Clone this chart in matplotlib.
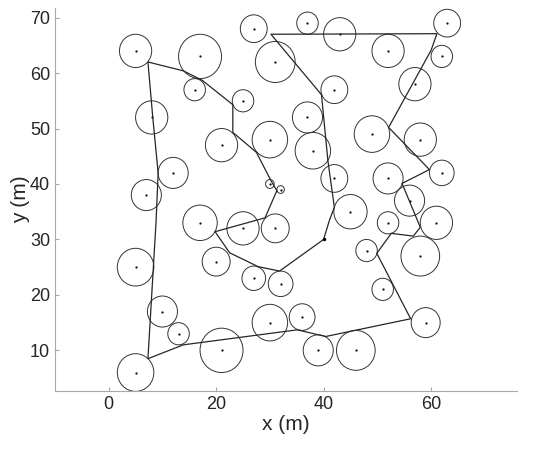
import matplotlib.pyplot as plt
from matplotlib.patches import Circle

plt.rcParams['font.family'] = ['Liberation Sans', 'DejaVu Sans']

# obstacle circles: centre x, centre y, radius (m)
cx = [5, 17, 27, 37, 43, 63, 52, 62, 31, 16, 25, 42, 57, 8, 37, 21, 30, 38, 49, 58,
      12, 42, 52, 62, 7, 30, 32, 45, 56, 17, 25, 31, 52, 61, 5, 20, 27, 32, 48, 58,
      51, 10, 13, 30, 36, 59, 21, 39, 46, 5]
cy = [64, 63, 68, 69, 67, 69, 64, 63, 62, 57, 55, 57, 58, 52, 52, 47, 48, 46, 49, 48,
      42, 41, 41, 42, 38, 40, 39, 35, 37, 33, 32, 32, 33, 33, 25, 26, 23, 22, 28, 27,
      21, 17, 13, 15, 16, 15, 10, 10, 10, 6]
rad = [3, 4, 2.5, 2, 3, 2.5, 3, 2, 3.7, 2, 2, 2.5, 3, 3, 2.8, 3, 3.3, 3.3, 3.3, 3,
       2.8, 2.5, 2.8, 2.3, 2.8, 0.8, 0.7, 3.1, 2.8, 3.2, 3, 2.6, 2, 3, 3.4, 2.6, 2.2, 2.3, 2, 3.6,
       2, 2.8, 2, 3.3, 2.4, 2.7, 4, 2.8, 3.6, 3.4]

# planned path
px = [40, 41.1, 42.0, 40.8, 39.6, 30.2, 61.1, 60.0, 52.1, 59.7, 54.6, 58.0, 56.7, 52.6,
      49.9, 56.2, 40.4, 35.1, 13.9, 7.3, 8.8, 9.2, 8.2, 7.3, 13.9, 17.4, 23.1, 23.1,
      27.5, 30.2, 31.3, 29.1, 19.8, 22.5, 27.8, 31.8, 40]
py = [30, 33.5, 35.8, 44.2, 56.1, 67.0, 67.1, 64.1, 50.2, 42.6, 40.1, 32.2, 30.6, 31.1,
      27.5, 15.7, 12.5, 13.7, 11.0, 8.5, 33, 42, 52, 62.0, 60.4, 58.7, 54.3, 49.3,
      45.7, 40.6, 38.8, 33.9, 31.4, 27.6, 25.1, 24.3, 30]

fig = plt.figure(figsize=(5.5, 4.55), dpi=100)
ax = fig.add_axes([0.1, 0.141, 0.84, 0.841])

for x, y, r in zip(cx, cy, rad):
    ax.add_patch(Circle((x, y), r, fill=False, edgecolor='#333333', linewidth=0.7))
ax.plot(cx, cy, 'k.', markersize=1.2, linestyle='none')
ax.plot(px, py, color='#262626', linewidth=0.9)
ax.plot([40], [30], 'k.', markersize=3)

ax.set_xlim(-10, 76)
ax.set_ylim(2.7, 71.7)
ax.set_xticks([0, 20, 40, 60])
ax.set_yticks([10, 20, 30, 40, 50, 60, 70])
ax.spines['top'].set_visible(False)
ax.spines['right'].set_visible(False)
for s in ('left', 'bottom'):
    ax.spines[s].set_color('#a8a8a8')
ax.tick_params(direction='in', length=3, color='#a8a8a8', labelsize=13, labelcolor='#262626')
ax.set_xlabel('x (m)', fontsize=15, color='#262626', labelpad=2)
ax.set_ylabel('y (m)', fontsize=15, color='#262626', labelpad=0)

fig.savefig('out.png', dpi=100)
